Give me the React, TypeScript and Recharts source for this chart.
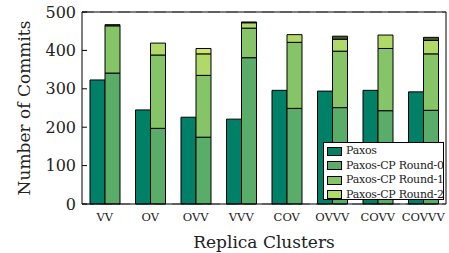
import React from 'react';
import { BarChart, Bar, XAxis, YAxis, CartesianGrid, ReferenceLine } from 'recharts';

const categories = ['VV', 'OV', 'OVV', 'VVV', 'COV', 'OVVV', 'COVV', 'COVVV'];
const paxos = [323, 245, 226, 221, 296, 294, 296, 292];
const round0 = [341, 197, 174, 381, 249, 251, 243, 244];
const round1 = [123, 191, 161, 77, 172, 147, 162, 147];
const round2 = [0, 31, 56, 14, 20, 31, 35, 35];
const round3 = [0, 0, 14, 0, 0, 0, 0, 0];
const round4 = [3, 0, 0, 2, 0, 8, 0, 8];
const yTicks = [0, 100, 200, 300, 400, 500];

const data = categories.map((c, i) => ({
  name: c,
  paxos: paxos[i],
  r0: round0[i],
  r1: round1[i],
  r2: round2[i],
  r3: round3[i],
  r4: round4[i],
}));

const legendItems = [
  { label: 'Paxos', color: '#008066' },
  { label: 'Paxos-CP Round-0', color: '#5aad69' },
  { label: 'Paxos-CP Round-1', color: '#85c567' },
  { label: 'Paxos-CP Round-2', color: '#b1d96a' },
];

const font = '"DejaVu Serif", serif';

const LegendBox = () => (
  <div
    style={{
      position: 'absolute',
      left: 323,
      top: 142,
      width: 121,
      height: 58,
      border: '1px solid #000',
      background: '#fff',
      padding: '1px 3px',
      fontFamily: font,
      fontSize: 11,
      letterSpacing: -0.25,
      lineHeight: '14.5px',
      color: '#222',
      boxSizing: 'border-box',
      overflow: 'hidden',
    }}
  >
    {legendItems.map((it) => (
      <div key={it.label} style={{ display: 'flex', alignItems: 'center', whiteSpace: 'nowrap' }}>
        <span
          style={{
            display: 'inline-block',
            flexShrink: 0,
            width: 15,
            height: 9,
            background: it.color,
            border: '1px solid #000',
            marginRight: 4,
            boxSizing: 'border-box',
          }}
        />
        <span>{it.label}</span>
      </div>
    ))}
  </div>
);

const YLabel = (props: any) => {
  const vb = props.viewBox || {};
  const cx = 24;
  const cy = (vb.y ?? 12) + (vb.height ?? 192) / 2;
  return (
    <text
      x={cx}
      y={cy}
      transform={`rotate(-90 ${cx} ${cy})`}
      textAnchor="middle"
      dominantBaseline="central"
      fontSize={17}
      fontFamily={font}
      fill="#222"
    >
      Number of Commits
    </text>
  );
};

export default function App() {
  return (
    <div style={{ position: 'absolute', left: 0, top: 0, width: 449, height: 253 }}>
      <BarChart
        width={449}
        height={253}
        data={data}
        margin={{ top: 12, right: 0, left: 0, bottom: 0 }}
        barGap={0}
        barSize={15}
      >
        <CartesianGrid vertical={false} stroke="#aaa" strokeWidth={1.5} strokeDasharray="12 6" />
        <XAxis
          dataKey="name"
          height={49}
          tickLine={false}
          tickSize={0}
          tickMargin={9}
          axisLine={{ stroke: '#000' }}
          tick={{ fontSize: 11.5, fontFamily: font, fill: '#222' }}
          interval={0}
          label={{ value: 'Replica Clusters', position: 'insideBottom', offset: 5, fontSize: 17, fontFamily: font, fill: '#222' }}
        />
        <YAxis
          yAxisId="left"
          width={82}
          domain={[0, 500]}
          ticks={yTicks}
          tickSize={-5}
          tickMargin={11}
          axisLine={{ stroke: '#000' }}
          tickLine={{ stroke: '#000' }}
          tick={{ fontSize: 16, fontFamily: font, fill: '#222' }}
          label={<YLabel />}
        />
        <YAxis
          yAxisId="right"
          orientation="right"
          width={3}
          domain={[0, 500]}
          ticks={yTicks}
          tickSize={-5}
          axisLine={{ stroke: '#000' }}
          tickLine={{ stroke: '#000' }}
          tick={() => <g />}
        />
        <ReferenceLine yAxisId="left" y={500} stroke="#000" />
        <Bar yAxisId="left" dataKey="paxos" stackId="a" fill="#008066" stroke="#000" strokeWidth={1} isAnimationActive={false} />
        <Bar yAxisId="left" dataKey="r0" stackId="b" fill="#5aad69" stroke="#000" strokeWidth={1} isAnimationActive={false} />
        <Bar yAxisId="left" dataKey="r1" stackId="b" fill="#85c567" stroke="#000" strokeWidth={1} isAnimationActive={false} />
        <Bar yAxisId="left" dataKey="r2" stackId="b" fill="#b1d96a" stroke="#000" strokeWidth={1} isAnimationActive={false} />
        <Bar yAxisId="left" dataKey="r3" stackId="b" fill="#cfe66c" stroke="#000" strokeWidth={1} isAnimationActive={false} />
        <Bar yAxisId="left" dataKey="r4" stackId="b" fill="#4a5a22" stroke="#000" strokeWidth={1} isAnimationActive={false} />
      </BarChart>
      <LegendBox />
    </div>
  );
}
